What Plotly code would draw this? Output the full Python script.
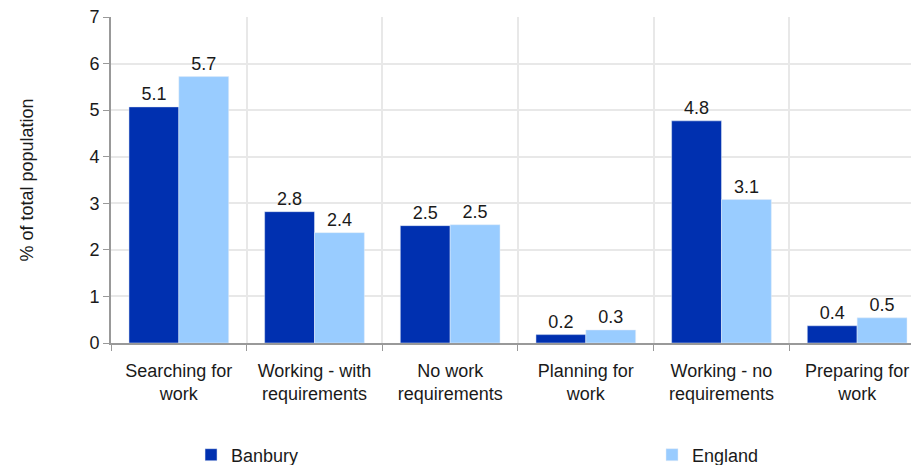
import plotly.graph_objects as go

categories = ["Searching for<br>work", "Working - with<br>requirements", "No work<br>requirements",
              "Planning for<br>work", "Working - no<br>requirements", "Preparing for<br>work"]
banbury = [5.07, 2.82, 2.52, 0.18, 4.77, 0.37]
england = [5.72, 2.37, 2.54, 0.28, 3.08, 0.54]
y_ticks = [0, 1, 2, 3, 4, 5, 6, 7]

font = dict(family="Liberation Sans, Arial, sans-serif", size=18, color="#1a1a1a")

fig = go.Figure()
fig.add_trace(go.Bar(name="Banbury", x=categories, y=banbury, marker_color="#0030B0",
                     texttemplate="%{y:.1f}", textposition="outside", textfont=font, cliponaxis=False,
                     legend="legend"))
fig.add_trace(go.Bar(name="England", x=categories, y=england, marker_color="#99CCFF",
                     texttemplate="%{y:.1f}", textposition="outside", textfont=font, cliponaxis=False,
                     legend="legend2"))

leg_common = dict(orientation="h", xref="container", yref="container", yanchor="middle",
                  xanchor="left", font=font, itemwidth=30, bgcolor="rgba(0,0,0,0)")

fig.update_layout(
    width=911, height=465,
    margin=dict(l=111, r=0, t=17, b=122),
    barmode="group", bargap=0.265, bargroupgap=0,
    plot_bgcolor="white", paper_bgcolor="white",
    font=font,
    showlegend=True,
    legend=dict(x=0.2097, y=0.0215, **leg_common),
    legend2=dict(x=0.7157, y=0.0215, **leg_common),
    xaxis=dict(tickson="boundaries", ticks="outside", ticklen=6, tickcolor="#999999",
               showline=True, linecolor="#999999", linewidth=2, automargin=False,
               showgrid=True, gridcolor="#e8e8e8", gridwidth=1.5, ticklabelstandoff=10,
               range=[-0.5, 5.397], tickfont=font),
    yaxis=dict(range=[0, 7], tickvals=y_ticks, ticks="outside", ticklen=6, tickcolor="#999999",
               showline=True, linecolor="#999999", linewidth=2, zeroline=False, automargin=False,
               showgrid=True, gridcolor="#e8e8e8", gridwidth=1.5, ticklabeloverflow="allow",
               title=dict(text="% of total population", font=font, standoff=51), tickfont=font),
)

fig.write_html("out.html", config={"displayModeBar": False},
               post_script="document.body.style.margin='0px';document.body.style.overflow='hidden';")
